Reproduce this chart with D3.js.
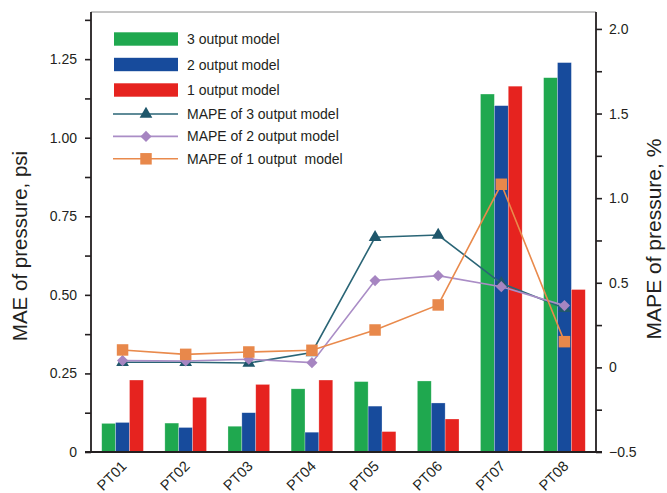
<!DOCTYPE html>
<html>
<head>
<meta charset="utf-8">
<script src="https://cdn.jsdelivr.net/npm/d3@7"></script>
<style>
  html, body { margin: 0; padding: 0; background: #ffffff; }
  svg { display: block; font-family: "Liberation Sans", Arial, sans-serif; }
</style>
</head>
<body>
<svg id="chart" width="667" height="493"></svg>
<script>
// Test points along the x axis
const categories = ["PT01", "PT02", "PT03", "PT04", "PT05", "PT06", "PT07", "PT08"];

// Mean absolute error of pressure (psi), one array per model
const mae3 = [0.091, 0.092, 0.082, 0.201, 0.224, 0.226, 1.139, 1.191];
const mae2 = [0.094, 0.078, 0.125, 0.063, 0.146, 0.156, 1.102, 1.239];
const mae1 = [0.229, 0.174, 0.215, 0.229, 0.065, 0.105, 1.164, 0.517];

// Mean absolute percentage error of pressure (%), one array per model
const mape3 = [0.030, 0.030, 0.026, 0.088, 0.769, 0.782, 0.497, 0.349];
const mape2 = [0.040, 0.038, 0.048, 0.028, 0.513, 0.542, 0.477, 0.365];
const mape1 = [0.103, 0.077, 0.091, 0.101, 0.221, 0.369, 1.082, 0.152];

// Axis ticks
const leftTicks = [0, 0.25, 0.5, 0.75, 1.0, 1.25];
const leftMinorTicks = [0.125, 0.375, 0.625, 0.875, 1.125, 1.375];
const rightTicks = [-0.5, 0, 0.5, 1.0, 1.5, 2.0];
const rightMinorTicks = [-0.25, 0.25, 0.75, 1.25, 1.75];

const barSeries = [
  { key: "m3", name: "3 output model", values: mae3, color: "#1fa84f" },
  { key: "m2", name: "2 output model", values: mae2, color: "#174b9c" },
  { key: "m1", name: "1 output model", values: mae1, color: "#e6231f" }
];
const lineSeries = [
  { name: "MAPE of 3 output model", values: mape3, color: "#2a6576", marker: "#1f576b", symbol: "triangle" },
  { name: "MAPE of 2 output model", values: mape2, color: "#aa8dc6", marker: "#a685c1", symbol: "diamond" },
  { name: "MAPE of 1 output  model", values: mape1, color: "#e98a4c", marker: "#e8884b", symbol: "square" }
];

const ink = "#231f20";
const svg = d3.select("#chart");

const plotLeft = 91, plotRight = 596, plotTop = 12, plotBottom = 452;

const x = d3.scaleBand().domain(categories).range([plotLeft, plotRight])
  .paddingInner(0.34).paddingOuter(0.17);
const xs = d3.scaleBand().domain(barSeries.map(s => s.key)).range([0, x.bandwidth()]);
const yL = d3.scaleLinear().domain([0, 1.4]).range([plotBottom, plotTop]);
const yR = d3.scaleLinear().domain([-0.5, 2.1]).range([plotBottom, plotTop]);

// Thin frame line across the top
svg.append("line")
  .attr("x1", plotLeft).attr("x2", plotRight).attr("y1", plotTop).attr("y2", plotTop)
  .attr("stroke", "#8a8a8a").attr("stroke-width", 1);

// Bars
const groups = svg.append("g").selectAll("g")
  .data(categories).join("g")
  .attr("transform", d => `translate(${x(d)},0)`);
groups.selectAll("rect")
  .data((d, i) => barSeries.map(s => ({ key: s.key, color: s.color, v: s.values[i] })))
  .join("rect")
  .attr("x", d => xs(d.key))
  .attr("width", xs.bandwidth())
  .attr("y", d => yL(d.v))
  .attr("height", d => yL(0) - yL(d.v))
  .attr("fill", d => d.color)
  .attr("stroke", "rgba(255,255,255,0.45)")
  .attr("stroke-width", 0.6);

// Axes
function styleAxis(g) {
  g.select(".domain").remove();
  g.selectAll(".tick line").attr("stroke", ink).attr("stroke-width", 1.6);
  g.selectAll(".tick text").attr("fill", ink).attr("font-size", 14)
    .attr("font-family", "Liberation Sans, Arial, sans-serif");
}

const fmtLeft = d => d === 0 ? "0" : d3.format(".2f")(d);
const fmtRight = d => d === 0 ? "0" : d3.format(".1f")(d);

svg.append("g").attr("transform", `translate(${plotLeft},0)`)
  .call(d3.axisLeft(yL).tickValues(leftTicks).tickFormat(fmtLeft).tickSize(6).tickPadding(8))
  .call(styleAxis);
svg.append("g").attr("transform", `translate(${plotLeft},0)`)
  .call(d3.axisLeft(yL).tickValues(leftMinorTicks).tickFormat("").tickSize(6))
  .call(styleAxis);
svg.append("g").attr("transform", `translate(${plotRight},0)`)
  .call(d3.axisRight(yR).tickValues(rightTicks).tickFormat(fmtRight).tickSize(6).tickPadding(7))
  .call(styleAxis);
svg.append("g").attr("transform", `translate(${plotRight},0)`)
  .call(d3.axisRight(yR).tickValues(rightMinorTicks).tickFormat("").tickSize(6))
  .call(styleAxis);

// Axis spines
svg.append("line").attr("x1", plotLeft).attr("x2", plotLeft).attr("y1", plotTop).attr("y2", plotBottom)
  .attr("stroke", ink).attr("stroke-width", 1.8);
svg.append("line").attr("x1", plotRight).attr("x2", plotRight).attr("y1", plotTop).attr("y2", plotBottom)
  .attr("stroke", ink).attr("stroke-width", 1.8);
svg.append("line").attr("x1", plotLeft - 6).attr("x2", plotRight + 6).attr("y1", plotBottom).attr("y2", plotBottom)
  .attr("stroke", ink).attr("stroke-width", 1.8);

// Category labels, slanted
svg.append("g").selectAll("text")
  .data(categories).join("text")
  .attr("transform", d => `translate(${x(d) + x.bandwidth() / 2 + 5},${plotBottom + 15}) rotate(-45)`)
  .attr("text-anchor", "end")
  .attr("fill", ink)
  .attr("font-size", 14.5)
  .text(d => d);

// Axis titles
svg.append("text")
  .attr("transform", `translate(27,${(plotTop + plotBottom) / 2 + 14}) rotate(-90)`)
  .attr("text-anchor", "middle").attr("fill", ink).attr("font-size", 20.5)
  .text("MAE of pressure, psi");
svg.append("text")
  .attr("transform", `translate(661,${(plotTop + plotBottom) / 2 + 7}) rotate(-90)`)
  .attr("text-anchor", "middle").attr("fill", ink).attr("font-size", 21)
  .text("MAPE of pressure, %");

// Marker shapes
function markerPath(kind) {
  if (kind === "triangle") return d3.symbol(d3.symbolTriangle, 70)();
  return d3.symbol(d3.symbolSquare, kind === "square" ? 132 : 62)();
}
function markerRotation(kind) { return kind === "diamond" ? 45 : 0; }

// MAPE lines with markers
const cx = d => x(d) + x.bandwidth() / 2;
lineSeries.forEach(s => {
  const pts = categories.map((c, i) => [cx(c), yR(s.values[i])]);
  svg.append("path")
    .attr("d", d3.line()(pts))
    .attr("fill", "none")
    .attr("stroke", s.color)
    .attr("stroke-width", 1.6);
  svg.append("g").selectAll("path")
    .data(pts).join("path")
    .attr("d", markerPath(s.symbol))
    .attr("transform", p => `translate(${p[0]},${p[1]}) rotate(${markerRotation(s.symbol)})`)
    .attr("fill", s.marker);
});

// Legend
const legend = svg.append("g");
const lgX = 114, lgW = 64, txtX = 187;
barSeries.forEach((s, i) => {
  const cyy = 39 + i * 25.5;
  legend.append("rect")
    .attr("x", lgX).attr("y", cyy - 6.7).attr("width", lgW).attr("height", 13.4)
    .attr("fill", s.color);
  legend.append("text")
    .attr("x", txtX).attr("y", cyy + 5).attr("fill", ink).attr("font-size", 14)
    .text(s.name);
});
lineSeries.forEach((s, i) => {
  const cyy = 114 + i * 22.4;
  legend.append("line")
    .attr("x1", lgX - 1).attr("x2", lgX + lgW).attr("y1", cyy).attr("y2", cyy)
    .attr("stroke", s.color).attr("stroke-width", 1.6);
  legend.append("path")
    .attr("d", markerPath(s.symbol))
    .attr("transform", `translate(${lgX + lgW / 2},${cyy}) rotate(${markerRotation(s.symbol)})`)
    .attr("fill", s.marker);
  legend.append("text")
    .attr("x", txtX).attr("y", cyy + 5).attr("fill", ink).attr("font-size", 14)
    .style("white-space", "pre")
    .text(s.name);
});
</script>
</body>
</html>
